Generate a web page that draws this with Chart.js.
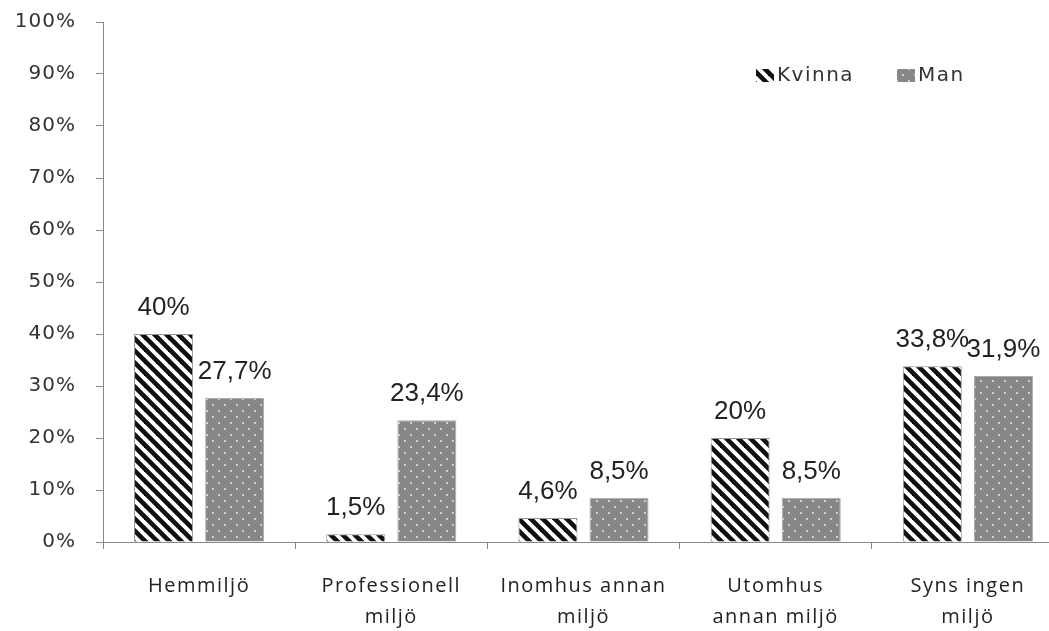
<!DOCTYPE html>
<html><head><meta charset="utf-8">
<script src="https://cdn.jsdelivr.net/npm/chart.js@4"></script>
<style>html,body{margin:0;padding:0;background:#fff;overflow:hidden;width:1049px;height:631px}</style>
</head><body>
<canvas id="c" width="1066" height="631"></canvas>
<script>
const categories = [["Hemmiljö"], ["Professionell","miljö"], ["Inomhus annan","miljö"], ["Utomhus","annan miljö"], ["Syns ingen","miljö"]];
const seriesNames = ["Kvinna", "Man"];
const kvinna = [40, 1.5, 4.6, 20, 33.8];
const man = [27.7, 23.4, 8.5, 8.5, 31.9];
const yTicks = [0,10,20,30,40,50,60,70,80,90,100];

function stripePattern(){
  const c=document.createElement('canvas'); c.width=12;c.height=12;
  const x=c.getContext('2d');
  x.fillStyle='#fff';x.fillRect(0,0,12,12);
  x.strokeStyle='#111';x.lineWidth=4.6;x.lineCap='butt';
  for(const o of [-24,-12,0,12,24]){x.beginPath();x.moveTo(o-6,-6);x.lineTo(o+18,18);x.stroke();}
  return x.createPattern(c,'repeat');
}
function dotPattern(){
  const c=document.createElement('canvas'); c.width=12;c.height=12;
  const x=c.getContext('2d');
  x.fillStyle='#878787';x.fillRect(0,0,12,12);
  x.fillStyle='#d0d0d0';
  x.fillRect(2,2,2,2);x.fillRect(8,8,2,2);
  return x.createPattern(c,'repeat');
}
const ctx=document.getElementById('c').getContext('2d');
const pats=[stripePattern(), dotPattern()];

function fmt(v){return (Number.isInteger(v)?String(v):v.toFixed(1).replace('.',','))+'%';}

const labelPlugin={id:'lbl',afterDatasetsDraw(chart){
  const c=chart.ctx; c.save();
  c.font='26px "Liberation Sans", Arial, sans-serif';c.fillStyle='#222';c.textAlign='center';c.textBaseline='alphabetic';
  chart.data.datasets.forEach((ds,i)=>{
    chart.getDatasetMeta(i).data.forEach((bar,j)=>{
      c.fillText(fmt(ds.data[j]),bar.x,bar.y-19);
    });
  });
  c.restore();
}};
const legendPlugin={id:'leg',afterDraw(chart){
  const c=chart.ctx; c.save();
  c.font='20px "DejaVu Sans", Verdana, sans-serif';c.textBaseline='middle';c.textAlign='left';
  try{c.letterSpacing='1.5px';}catch(e){}
  const pos=[[756,76],[897,76]];
  chart.data.datasets.forEach((ds,i)=>{
    const [x,y]=pos[i];
    c.fillStyle=ds.backgroundColor;c.fillRect(x,y-7,18,13);
    c.fillStyle='#333';c.fillText(ds.label,x+21,y);
  });
  c.restore();
}};
const spacingPlugin={id:'spc',afterLayout(chart){
  const sp={x:'1.5px',y:'1px'};
  for(const id of ['x','y']){
    const s=chart.scales[id]; if(!s||s._pt) continue; s._pt=true;
    const orig=s.drawLabels;
    s.drawLabels=function(a){const c=this.ctx;c.save();try{c.letterSpacing=sp[id];}catch(e){}orig.call(this,a);c.restore();};
  }
}};

new Chart(ctx,{type:'bar',
  data:{labels:categories,datasets:[
    {label:seriesNames[0],data:kvinna,backgroundColor:pats[0],borderColor:'#999',borderWidth:1},
    {label:seriesNames[1],data:man,backgroundColor:pats[1],borderColor:'#aaa',borderWidth:1}
  ]},
  options:{responsive:false,animation:false,
    layout:{padding:{top:0,right:2,left:0,bottom:0}},
    categoryPercentage:0.74,barPercentage:0.83,
    plugins:{legend:{display:false},tooltip:{enabled:false}},
    scales:{
      y:{min:0,max:100,afterBuildTicks(s){s.ticks=yTicks.map(v=>({value:v}));},
        afterFit(s){s.width=103;s.paddingTop=22;s.paddingBottom=12;},
        border:{display:true,color:'#888',width:1},
        grid:{drawOnChartArea:false,tickLength:7,color:'#888'},
        ticks:{callback:v=>v+'%',color:'#333',padding:20,font:{family:'"DejaVu Sans", Verdana, sans-serif',size:20}}},
      x:{afterFit(s){s.height=89;},
        border:{display:true,color:'#888',width:1},
        grid:{drawOnChartArea:false,tickLength:7,color:'#888',offset:true},
        ticks:{color:'#222',padding:21,maxRotation:0,font:{family:'"Open Sans", "Liberation Sans", Arial, sans-serif',size:20,lineHeight:1.58}}}
    }
  },
  plugins:[labelPlugin,legendPlugin,spacingPlugin]
});
</script>
</body></html>
